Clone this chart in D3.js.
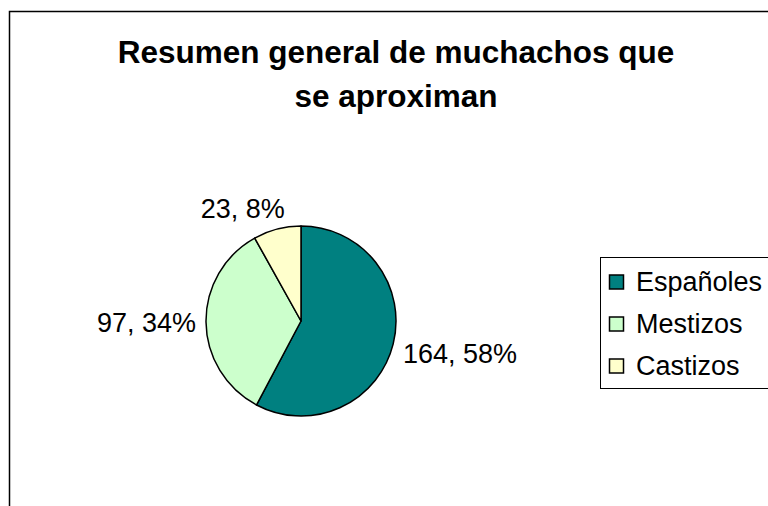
<!DOCTYPE html>
<html>
<head>
<meta charset="utf-8">
<script src="https://cdnjs.cloudflare.com/ajax/libs/d3/7.8.5/d3.min.js"></script>
<style>
  body { margin: 0; background: #fff; }
  svg { display: block; }
</style>
</head>
<body>
<svg></svg>
<script>
var categories = ['Españoles', 'Mestizos', 'Castizos'];
var values = [164, 97, 23];
var colors = ['#008080', '#CCFFCC', '#FFFFCC'];
var titleLines = ['Resumen general de muchachos que', 'se aproximan'];

var W = 768, H = 506;
var cx = 301, cy = 321, r = 95;
var font = 'Liberation Sans, Arial, sans-serif';

var svg = d3.select('svg')
            .attr('width', W)
            .attr('height', H);

// chart frame (extends past the right/bottom edge)
svg.append('rect')
   .attr('x', 9.5)
   .attr('y', 11.5)
   .attr('width', 800)
   .attr('height', 520)
   .attr('fill', '#fff')
   .attr('stroke', '#000')
   .attr('stroke-width', 1.5);

svg.selectAll('text.title')
   .data(titleLines)
   .enter()
   .append('text')
   .attr('class', 'title')
   .text(d => d)
   .attr('x', 396)
   .attr('y', (d,i) => 63 + i*44)
   .attr('text-anchor', 'middle')
   .attr('font-family', font)
   .attr('font-weight', 'bold')
   .attr('font-size', '31.5px')
   .attr('fill', '#000');

var total = d3.sum(values);
var pie = d3.pie().sort(null).value(d => d);
var arcs = pie(values);
var arc = d3.arc().innerRadius(0).outerRadius(r);

var g = svg.append('g').attr('transform', 'translate(' + cx + ',' + cy + ')');

g.selectAll('path')
 .data(arcs)
 .enter()
 .append('path')
 .attr('d', arc)
 .attr('fill', (d,i) => colors[i])
 .attr('stroke', '#000')
 .attr('stroke-width', 1.5)
 .attr('stroke-linejoin', 'round');

// labels "value, pct%" placed outside the slice
var clamp = v => Math.max(-1, Math.min(1, v));
var labels = g.selectAll('text.lbl')
 .data(arcs)
 .enter()
 .append('text')
 .attr('class', 'lbl')
 .text(d => d.data + ', ' + Math.round(d.data / total * 100) + '%')
 .attr('text-anchor', 'middle')
 .attr('dominant-baseline', 'central')
 .attr('font-family', font)
 .attr('font-size', '27px')
 .attr('fill', '#000');

labels.each(function(d){
  var a = (d.startAngle + d.endAngle) / 2;
  var s = Math.sin(a), c = Math.cos(a);
  var bb = this.getBBox();
  var px = (r + 10) * s, py = -(r + 10) * c;
  d3.select(this)
    .attr('x', px + bb.width/2 * clamp(s*3))
    .attr('y', py - 10 * clamp(c*3));
});

// legend
var lg = svg.append('g');
lg.append('rect')
  .attr('x', 600.5)
  .attr('y', 257.5)
  .attr('width', 170)
  .attr('height', 131)
  .attr('fill', '#fff')
  .attr('stroke', '#000')
  .attr('stroke-width', 1);

var items = lg.selectAll('g.item')
  .data(categories)
  .enter()
  .append('g')
  .attr('class', 'item')
  .attr('transform', (d,i) => 'translate(0,' + (282 + i*42) + ')');

items.append('rect')
  .attr('x', 609.5)
  .attr('y', -7)
  .attr('width', 14)
  .attr('height', 14)
  .attr('fill', (d,i) => colors[i])
  .attr('stroke', '#000')
  .attr('stroke-width', 1.5);

items.append('text')
  .text(d => d)
  .attr('x', 636)
  .attr('y', 0)
  .attr('dominant-baseline', 'central')
  .attr('font-family', font)
  .attr('font-size', '27px')
  .attr('fill', '#000');
</script>
</body>
</html>
